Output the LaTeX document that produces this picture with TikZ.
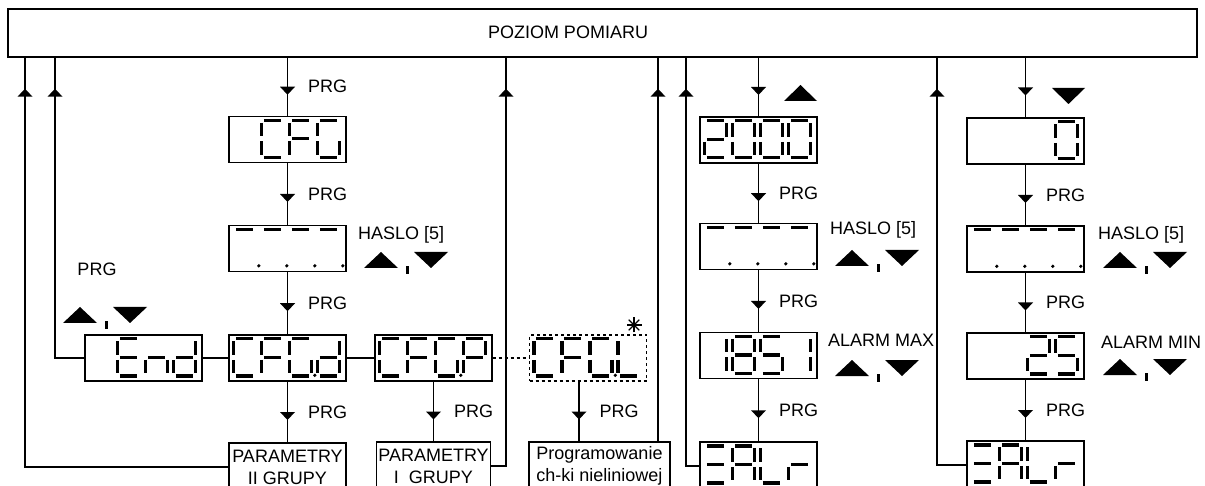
\documentclass[tikz,border=0pt]{standalone}
\usepackage{fontspec}
\setmainfont{Liberation Sans}
\usetikzlibrary{positioning,decorations.markings}

\tikzset{
  disp/.style={draw, line width=1.4pt, minimum width=117pt, minimum height=46pt, inner sep=0pt},
  txtbox/.style={draw, line width=1.4pt, minimum height=48pt, inner sep=1pt, align=center},
  conn/.style={line width=1.4pt},
  seg/.style={line width=3.4pt},
  fwd/.style={conn, postaction={decorate,decoration={markings,mark=at position .5 with {\fill (8pt,0) -- (0,7.5pt) -- (0,-7.5pt) -- cycle;}}}},
  back/.style={conn, postaction={decorate,decoration={markings,mark=at position -39pt with {\fill (8pt,0) -- (0,7.5pt) -- (0,-7.5pt) -- cycle;}}}},
  prg/.style={right=20pt, inner sep=0pt},
  lbl/.style={anchor=west, inner sep=0pt},
}

\newcommand{\sega}{\draw[seg] (2.5,0) -- (19.5,0);}
\newcommand{\segb}{\draw[seg] (22,2.5) -- (22,16);}
\newcommand{\segc}{\draw[seg] (22,21) -- (22,34.5);}
\newcommand{\segd}{\draw[seg] (2.5,37) -- (19.5,37);}
\newcommand{\sege}{\draw[seg] (0,21) -- (0,34.5);}
\newcommand{\segf}{\draw[seg] (0,2.5) -- (0,16);}
\newcommand{\segg}{\draw[seg] (2.5,18.5) -- (19.5,18.5);}
\newcommand{\segp}{\fill (25.5,36.5) circle (1.8);}
\newcommand{\segdigit}[3]{%
  \begin{scope}[shift={(#1.north west)}, shift={({5+28*(#2-1)},4.5)}]
    \foreach \s in {#3}{\csname seg\s\endcsname}
  \end{scope}}
\newcommand{\keypair}[2]{%
  \fill (#1,#2+16) -- (#1+34,#2+16) -- (#1+17,#2) -- cycle;
  \fill (#1+41.5,#2+14) rectangle (#1+44.5,#2+22);
  \fill (#1+50,#2) -- (#1+84,#2) -- (#1+67,#2+16) -- cycle;}

\begin{document}
\begin{tikzpicture}[x=1pt,y=-1pt,font=\fontsize{18}{22}\selectfont]
  \useasboundingbox (0,0) rectangle (1205,486);
  \clip (0,0) rectangle (1205,486);
  \fill[white] (0,0) rectangle (1205,486);

  \node[disp, minimum width=1189pt, minimum height=48pt] (top) at (602.5,33) {};
  \node (toplbl) at (568,32) {POZIOM POMIARU};

  \node[disp] (cfg) at (287.5,139.5) {};
  \node[disp] (pass1) at (287.5,248.5) {};
  \node[disp] (cfgd) at (287.5,358) {};
  \node[disp] (endd) at (143.5,358) {};
  \node[disp] (cfgp) at (433.5,358) {};
  \node[disp, dash pattern=on 3pt off 3pt] (cfgl) at (588,358) {};
  \node[txtbox, minimum width=117pt] (par2) at (287.5,467) {PARAMETRY\\II GRUPY};
  \node[txtbox, minimum width=114pt] (par1) at (433.5,466) {PARAMETRY\\I\ \ GRUPY};
  \node[txtbox, minimum width=141pt] (prog) at (599.5,466) {Programowanie\\ch-ki nieliniowej};

  \node[disp] (v2000) at (758.5,140) {};
  \node[disp] (pass2) at (758.5,246.5) {};
  \node[disp] (v1851) at (758.5,355.5) {};
  \node[disp, minimum height=48pt] (ealr1) at (758.5,466) {};

  \node[disp] (v0) at (1025.5,141) {};
  \node[disp] (pass3) at (1025.5,249) {};
  \node[disp] (v25) at (1025.5,356) {};
  \node[disp, minimum height=48pt] (ealr2) at (1025.5,465) {};

  % display contents
  \segdigit{cfg}{2}{a,d,e,f}
  \segdigit{cfg}{3}{a,e,f,g}
  \segdigit{cfg}{4}{a,c,d,e,f}
  \foreach \k in {1,...,4}{
    \segdigit{pass1}{\k}{a,p}
    \segdigit{pass2}{\k}{a,p}
    \segdigit{pass3}{\k}{a,p}
  }
  \segdigit{endd}{2}{a,d,e,f,g}
  \segdigit{endd}{3}{c,e,g}
  \segdigit{endd}{4}{b,c,d,e,g}
  \foreach \n in {cfgd,cfgp,cfgl}{
    \segdigit{\n}{1}{a,d,e,f}
    \segdigit{\n}{2}{a,e,f,g}
    \segdigit{\n}{3}{a,c,d,e,f,p}
  }
  \segdigit{cfgd}{4}{b,c,d,e,g}
  \segdigit{cfgp}{4}{a,b,e,f,g}
  \segdigit{cfgl}{4}{d,e,f}
  \segdigit{v2000}{1}{a,b,g,e,d}
  \foreach \k in {2,3,4}{\segdigit{v2000}{\k}{a,b,c,d,e,f}}
  \segdigit{v1851}{1}{b,c}
  \segdigit{v1851}{2}{a,b,c,d,e,f,g}
  \segdigit{v1851}{3}{a,f,g,c,d}
  \segdigit{v1851}{4}{b,c}
  \segdigit{v0}{4}{a,b,c,d,e,f}
  \segdigit{v25}{3}{a,b,g,e,d}
  \segdigit{v25}{4}{a,f,g,c,d}
  \foreach \n in {ealr1,ealr2}{
    \segdigit{\n}{1}{a,g,d}
    \segdigit{\n}{2}{a,b,c,e,f,g}
    \segdigit{\n}{3}{d,e,f}
    \segdigit{\n}{4}{e,g}
  }

  \coordinate (r1) at (25,0);
  \coordinate (r2) at (55,0);
  \coordinate (r3) at (506,0);
  \coordinate (r4) at (658,0);
  \coordinate (r5) at (686,0);
  \coordinate (r6) at (937,0);
  \coordinate (lx) at (579,0);

  \draw[fwd] (top.south -| cfg) -- node[prg] (prg1) {PRG} (cfg);
  \draw[fwd] (cfg) -- node[prg] (prg2) {PRG} (pass1);
  \draw[fwd] (pass1) -- node[prg] (prg3) {PRG} (cfgd);
  \draw[fwd] (cfgd) -- node[prg] (prg4) {PRG} (par2);
  \draw[fwd] (cfgp) -- node[prg] (prg5) {PRG} (par1);
  \draw[fwd] (cfgl.south -| lx) -- node[prg] (prg6) {PRG} (prog.north -| lx);
  \draw[conn] (endd) -- (cfgd);
  \draw[conn] (cfgd) -- (cfgp);
  \draw[conn, dash pattern=on 3pt off 3pt] (cfgp) -- (cfgl);

  \draw[fwd] (top.south -| v2000) -- (v2000);
  \draw[fwd] (v2000) -- node[prg] (prg7) {PRG} (pass2);
  \draw[fwd] (pass2) -- node[prg] (prg8) {PRG} (v1851);
  \draw[fwd] (v1851) -- node[prg] (prg9) {PRG} (ealr1);

  \draw[fwd] (top.south -| v0) -- (v0);
  \draw[fwd] (v0) -- node[prg] (prg10) {PRG} (pass3);
  \draw[fwd] (pass3) -- node[prg] (prg11) {PRG} (v25);
  \draw[fwd] (v25) -- node[prg] (prg12) {PRG} (ealr2);

  \draw[back] (par2.west) -| (top.south -| r1);
  \draw[back] (endd.west) -| (top.south -| r2);
  \draw[back] (par1.east) -| (top.south -| r3);
  \draw[back] (prog.north -| r4) -- (top.south -| r4);
  \draw[back] (ealr1.west) -| (top.south -| r5);
  \draw[back] (ealr2.west) -| (top.south -| r6);

  \node (prgend) at (97,269) {PRG};
  \node[lbl] (haslo1) at (358,235) {HASLO [5]};
  \node[lbl] (haslo2) at (830,230) {HASLO [5]};
  \node[lbl] (haslo3) at (1098,235) {HASLO [5]};
  \node[lbl] (amax) at (828,340) {ALARM MAX};
  \node[lbl] (amin) at (1101,342) {ALARM MIN};

  \keypair{63}{307}
  \keypair{364}{252}
  \keypair{835}{250}
  \keypair{835}{360}
  \keypair{1103}{252}
  \keypair{1103}{359}
  \fill (784,101) -- (817,101) -- (800.5,85) -- cycle;
  \fill (1052,88) -- (1085,88) -- (1068.5,104) -- cycle;

  \foreach \a in {0,45,90,135}
    \draw[line width=1.2pt] (634,325) ++(\a:7.5) -- ++(\a+180:15);
\end{tikzpicture}
\end{document}
